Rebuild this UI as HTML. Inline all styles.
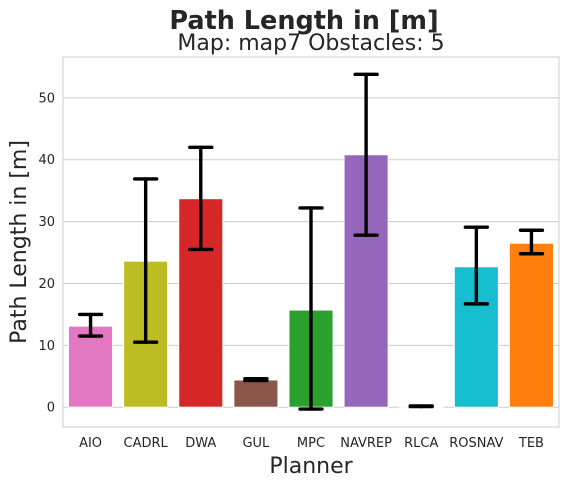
<!DOCTYPE html>
<html><head><meta charset="utf-8">
<style>
body{margin:0;background:#fff;font-family:"Liberation Sans","DejaVu Sans",sans-serif;}
svg text{font-family:"DejaVu Sans","Liberation Sans",sans-serif;}
</style></head>
<body>
<svg id="chart" width="568" height="486" viewBox="0 0 568 486">
<text x="304" y="29" text-anchor="middle" font-size="25.5" font-weight="bold" fill="#262626">Path Length in [m]</text>
<text x="311" y="50" text-anchor="middle" font-size="22" fill="#262626">Map: map7 Obstacles: 5</text>
<g id="grid"></g>
<rect x="63" y="57" width="496" height="370" fill="none" stroke="#cccccc" stroke-width="1"/>
<g id="bars"></g>
<g id="errs"></g>
<g id="xt"></g>
<text x="311" y="473" text-anchor="middle" font-size="22" fill="#262626">Planner</text>
<text transform="translate(26,242) rotate(-90)" text-anchor="middle" font-size="22" fill="#262626">Path Length in [m]</text>
</svg>
<script>
const categories=["AIO","CADRL","DWA","GUL","MPC","NAVREP","RLCA","ROSNAV","TEB"];
const values=[13.1,23.6,33.7,4.4,15.7,40.8,0.15,22.7,26.5];
const errLow=[11.5,10.5,25.5,4.3,-0.3,27.8,0.1,16.7,24.8];
const errHigh=[15.0,36.9,42.0,4.6,32.2,53.8,0.2,29.1,28.6];
const yTicks=[0,10,20,30,40,50];
const colors=["#e377c2","#bcbd22","#d62728","#8c564b","#2ca02c","#9467bd","#7f7f7f","#17becf","#ff7f0e"];
const L=63,R=559,T=57,B=427,yMin=-3.2,yMax=56.6;
const ns="http://www.w3.org/2000/svg";
const y=v=>B-(v-yMin)/(yMax-yMin)*(B-T);
const step=(R-L)/categories.length;
const xc=i=>L+step*(i+0.5);
function mk(tag,attrs,parent){const e=document.createElementNS(ns,tag);for(const k in attrs)e.setAttribute(k,attrs[k]);document.getElementById(parent).appendChild(e);return e;}
yTicks.forEach(t=>{
  const l=mk("line",{x1:L,x2:R,y1:y(t),y2:y(t),stroke:"#cccccc","stroke-width":1},"grid");
  
  
  const tx=mk("text",{x:L-8,y:y(t)+4.5,"text-anchor":"end","font-size":13,fill:"#262626"},"grid");
  tx.textContent=t;
  
  
});
const bw=step*0.8;
categories.forEach((c,i)=>{
  const y0=y(0),yv=y(values[i]);
  const r=mk("rect",{x:xc(i)-bw/2,y:Math.min(y0,yv),width:bw,height:Math.max(Math.abs(y0-yv),0.5),fill:colors[i],stroke:"#fff","stroke-width":1},"bars");
  
  
  const g=mk("g",{stroke:"#000","stroke-width":3.4,"stroke-linecap":"round"},"errs");
  
  
  const lo=y(errLow[i]),hi=y(errHigh[i]);
  [[xc(i),xc(i),lo,hi],[xc(i)-11,xc(i)+11,lo,lo],[xc(i)-11,xc(i)+11,hi,hi]].forEach(a=>{
    const e=document.createElementNS(ns,"line");
    e.setAttribute("x1",a[0]);e.setAttribute("x2",a[1]);e.setAttribute("y1",a[2]);e.setAttribute("y2",a[3]);g.appendChild(e);
  });
  const tx=mk("text",{x:xc(i),y:B+20,"text-anchor":"middle","font-size":13,fill:"#262626"},"xt");
  tx.textContent=c;
  
  
});
</script>
</body></html>
